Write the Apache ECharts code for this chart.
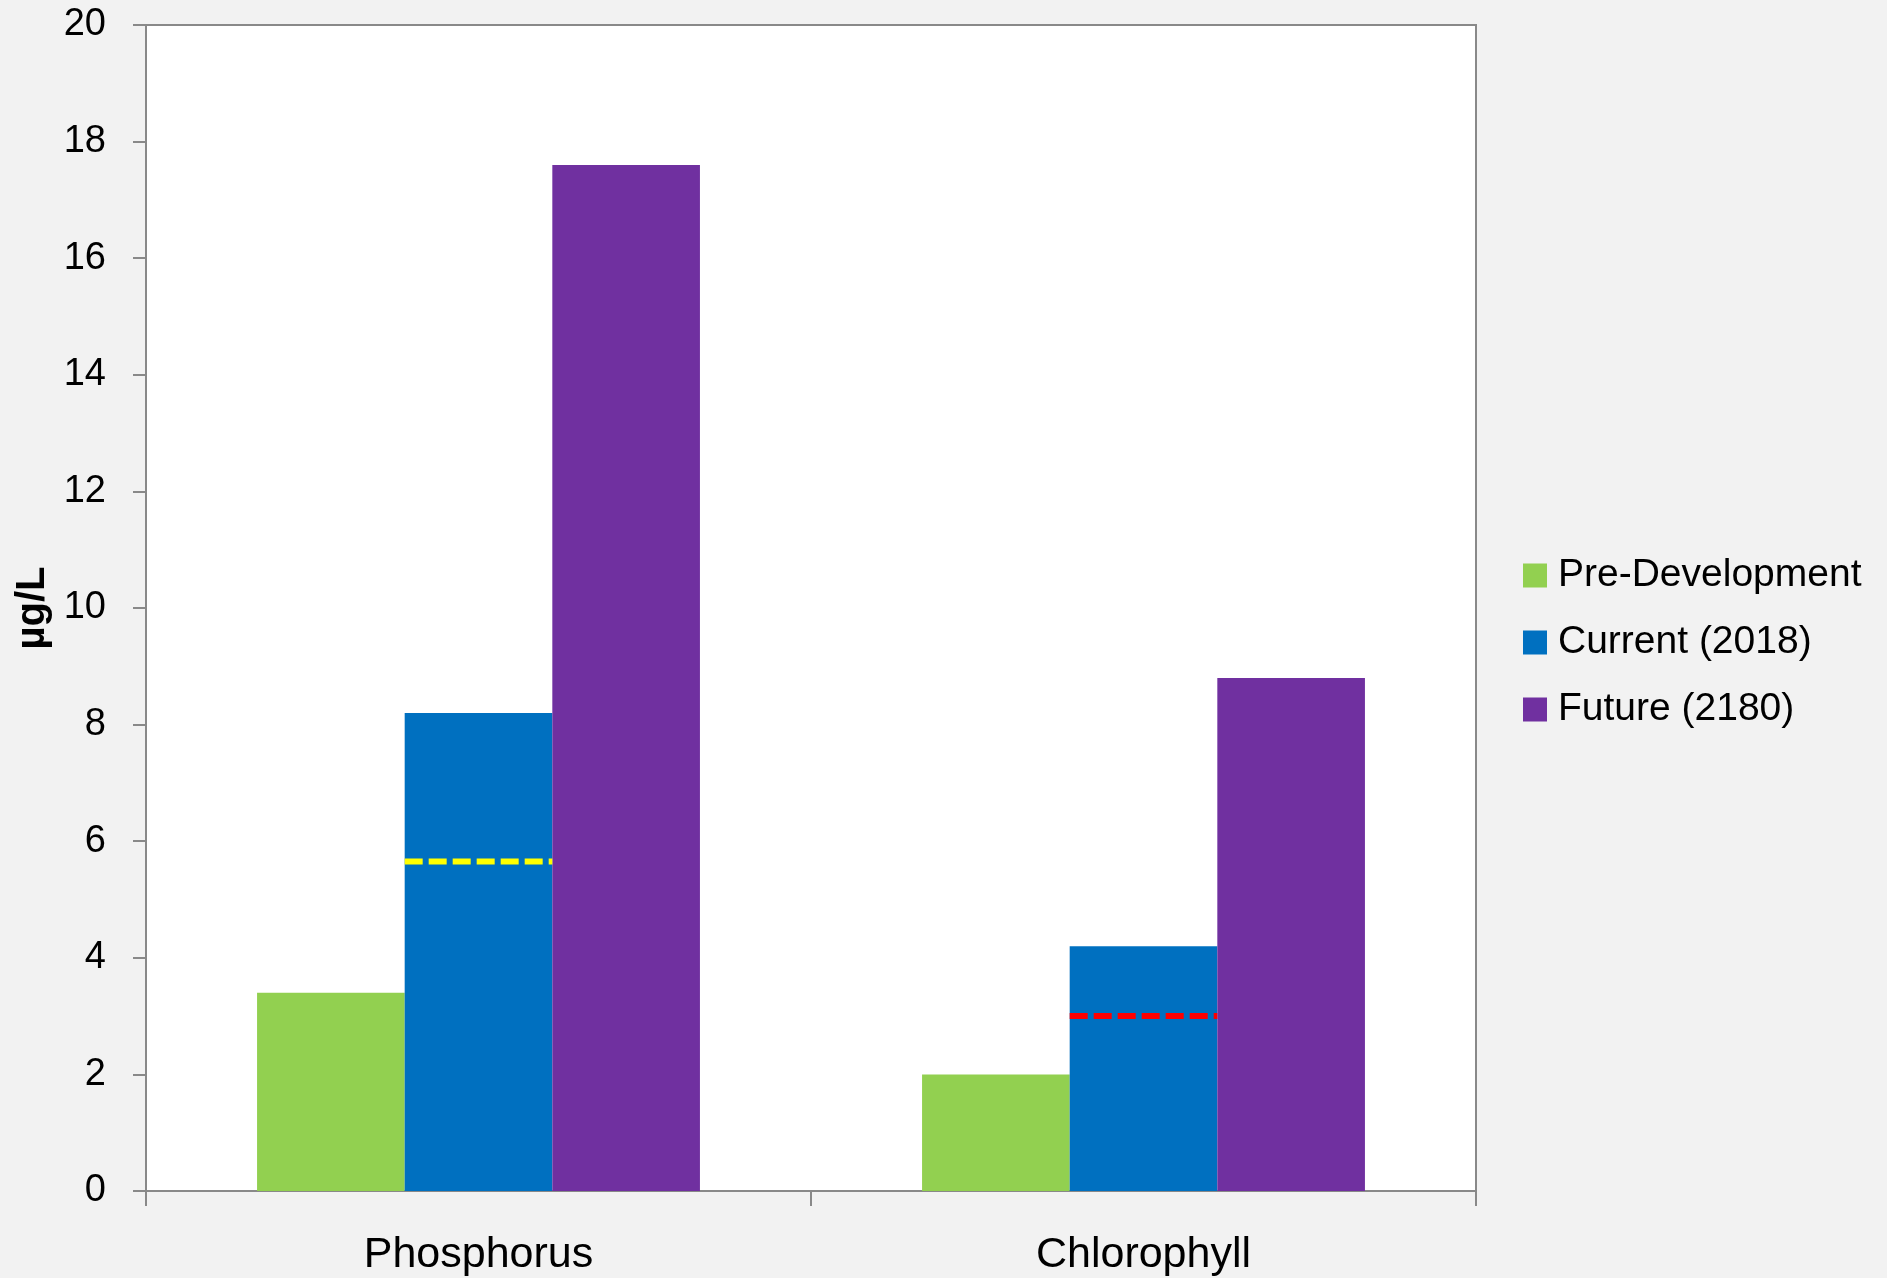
<!DOCTYPE html>
<html>
<head>
<meta charset="utf-8">
<script src="https://cdn.jsdelivr.net/npm/echarts@6/dist/echarts.min.js"></script>
<style>
  html, body { margin: 0; padding: 0; background: #F2F2F2; }
  #chart { width: 1887px; height: 1278px; }
</style>
</head>
<body>
<div id="chart"></div>
<script>
// Nutrient concentrations (µg/L) by scenario
const categories = ['Phosphorus', 'Chlorophyll'];
const seriesNames = ['Pre-Development', 'Current (2018)', 'Future (2180)'];
const preDevelopment = [3.4, 2.0];
const current2018 = [8.2, 4.2];
const future2180 = [17.6, 8.8];
// Threshold drawn as a dashed line across the current bar of each category
const thresholds = [5.65, 3.0];
const thresholdColors = ['#FFFF00', '#FF0000'];

const yMin = 0, yMax = 20, yStep = 2;
const CATEGORY_GAP = 0.334;
const FONT = "'Liberation Sans', Arial, sans-serif";

const chart = echarts.init(document.getElementById('chart'), null, { renderer: 'canvas' });

const barStyle = (name, data, color) => ({
  name: name,
  type: 'bar',
  data: data,
  barGap: '0%',
  barCategoryGap: (CATEGORY_GAP * 100) + '%',
  itemStyle: { color: color },
  emphasis: { disabled: true },
  silent: true
});

chart.setOption({
  backgroundColor: '#F2F2F2',
  animation: false,
  textStyle: { fontFamily: FONT },
  grid: {
    left: 146, right: 411, top: 25, bottom: 87,
    containLabel: false,
    outerBoundsMode: 'none',
    show: true,
    backgroundColor: '#FFFFFF',
    borderColor: '#898989',
    borderWidth: 2
  },
  legend: {
    data: seriesNames,
    orient: 'vertical',
    left: 1523,
    top: 556,
    padding: 0,
    itemWidth: 24,
    itemHeight: 24,
    itemGap: 28,
    icon: 'rect',
    textStyle: { fontSize: 39, color: '#000', fontFamily: FONT, padding: [0, 0, 0, 6] },
    selectedMode: false
  },
  xAxis: {
    type: 'category',
    data: categories,
    axisLine: { lineStyle: { color: '#898989', width: 2 } },
    axisTick: { show: true, length: 15, lineStyle: { color: '#898989', width: 2 } },
    axisLabel: { fontSize: 43, color: '#000', margin: 43, fontFamily: FONT },
    splitLine: { show: false }
  },
  yAxis: {
    type: 'value',
    min: yMin, max: yMax, interval: yStep,
    name: 'µg/L',
    nameLocation: 'middle',
    nameGap: 90,
    nameRotate: 90,
    nameTextStyle: { fontSize: 40, fontWeight: 'bold', color: '#000', fontFamily: FONT },
    axisLine: { show: true, lineStyle: { color: '#898989', width: 2 } },
    axisTick: { show: true, length: 13, lineStyle: { color: '#898989', width: 2 } },
    axisLabel: { fontSize: 38, color: '#000', margin: 40, fontFamily: FONT },
    splitLine: { show: false }
  },
  series: [
    barStyle(seriesNames[0], preDevelopment, '#92D050'),
    barStyle(seriesNames[1], current2018, '#0070C0'),
    barStyle(seriesNames[2], future2180, '#7030A0'),
    {
      type: 'custom',
      name: 'threshold',
      silent: true,
      z: 10,
      data: thresholds.map((v, i) => [i, v]),
      renderItem: function (params, api) {
        const idx = api.value(0);
        const pt = api.coord([idx, api.value(1)]);
        const band = api.size([1, 0])[0];
        const barW = band * (1 - CATEGORY_GAP) / 3;
        return {
          type: 'line',
          shape: { x1: pt[0] - barW / 2, y1: pt[1], x2: pt[0] + barW / 2, y2: pt[1] },
          style: {
            stroke: thresholdColors[idx],
            lineWidth: 6,
            lineDash: [18, 6]
          }
        };
      }
    }
  ]
});
</script>
</body>
</html>
